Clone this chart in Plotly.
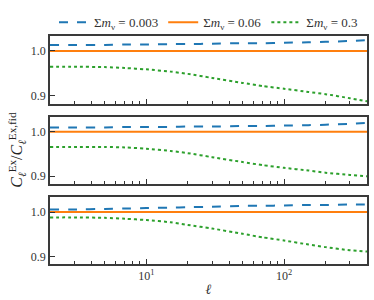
import plotly.graph_objects as go
from plotly.subplots import make_subplots

ell = [2, 3, 5, 7, 10, 15, 20, 30, 50, 70, 100, 150, 200, 300, 400]

# panel 1
p1_003 = [1.013, 1.013, 1.013, 1.014, 1.014, 1.015, 1.015, 1.016, 1.017, 1.017, 1.018, 1.019, 1.020, 1.022, 1.024]
p1_006 = [1.0] * len(ell)
p1_03 = [0.965, 0.965, 0.964, 0.962, 0.959, 0.954, 0.949, 0.940, 0.929, 0.922, 0.916, 0.909, 0.904, 0.895, 0.888]
# panel 2
p2_003 = [1.010, 1.010, 1.010, 1.011, 1.011, 1.011, 1.012, 1.012, 1.013, 1.013, 1.014, 1.015, 1.016, 1.018, 1.020]
p2_006 = [1.0] * len(ell)
p2_03 = [0.966, 0.966, 0.966, 0.965, 0.962, 0.957, 0.952, 0.943, 0.932, 0.925, 0.919, 0.913, 0.908, 0.903, 0.900]
# panel 3
p3_003 = [1.006, 1.006, 1.007, 1.008, 1.009, 1.010, 1.011, 1.012, 1.014, 1.014, 1.015, 1.016, 1.016, 1.017, 1.017]
p3_006 = [1.0] * len(ell)
p3_03 = [0.988, 0.988, 0.987, 0.985, 0.982, 0.977, 0.971, 0.963, 0.951, 0.943, 0.936, 0.927, 0.921, 0.914, 0.911]

labels = ["Σ<i>m</i><sub>ν</sub> = 0.003", "Σ<i>m</i><sub>ν</sub> = 0.06", "Σ<i>m</i><sub>ν</sub> = 0.3"]
colors = ["#1f77b4", "#ff7f0e", "#2ca02c"]
dashes = ["dash", "solid", "dot"]

panels = [(p1_003, p1_006, p1_03), (p2_003, p2_006, p2_03), (p3_003, p3_006, p3_03)]

fig = make_subplots(rows=3, cols=1, shared_xaxes=True)
for r, series in enumerate(panels, start=1):
    for i, ys in enumerate(series):
        fig.add_trace(go.Scatter(x=ell, y=ys, mode="lines", name=labels[i],
                                 line=dict(color=colors[i], dash=dashes[i], width=2, shape="spline", smoothing=0.6),
                                 showlegend=(r == 1)), row=r, col=1)

font = "Liberation Serif"
domains = [[0.7034, 1.0], [0.3517, 0.644], [0.0, 0.292]]
minor_vals = [2, 3, 4, 5, 6, 7, 8, 9, 20, 30, 40, 50, 60, 70, 80, 90, 200, 300, 400]
for r in range(1, 4):
    fig.update_xaxes(type="log", range=[0.30103, 2.60206], row=r, col=1, automargin=False,
                     tickvals=[10, 100], ticktext=["10<sup>1</sup>", "10<sup>2</sup>"],
                     showticklabels=(r == 3), ticks="inside", ticklen=5, tickwidth=1, tickcolor="#333",
                     minor=dict(tickvals=minor_vals, ticks="inside", ticklen=3, tickwidth=0.8, tickcolor="#333"),
                     showline=True, linecolor="#3a3a3a", linewidth=1.5, mirror=True,
                     showgrid=False, zeroline=False, tickfont=dict(family=font, size=12, color="#333"))
    fig.update_yaxes(range=[0.883, 1.033], tickvals=[0.9, 1.0], ticktext=["0.9", "1.0"], automargin=False,
                     ticks="inside", ticklen=5, tickwidth=1, tickcolor="#333",
                     showline=True, linecolor="#3a3a3a", linewidth=1.5, mirror=True,
                     showgrid=False, zeroline=False, domain=domains[r - 1], row=r, col=1,
                     tickfont=dict(family=font, size=12, color="#333"))

fig.update_xaxes(title=dict(text="<i>ℓ</i>", font=dict(family=font, size=14, color="#333"), standoff=2), row=3, col=1)

fig.add_annotation(text="<i>C</i><sub><i>ℓ</i></sub><sup>Ex</sup>/<i>C</i><sub><i>ℓ</i></sub><sup>Ex,fid</sup>",
                   xref="paper", yref="paper", x=-0.105, xanchor="center", y=0.5, textangle=-90, showarrow=False,
                   font=dict(family=font, size=16, color="#222"))

fig.update_layout(width=374, height=300, margin=dict(l=50, r=7, t=28, b=36),
                  plot_bgcolor="white", paper_bgcolor="white",
                  legend=dict(orientation="h", x=0.5, xanchor="center", y=1.06, yanchor="middle",
                              font=dict(family=font, size=13, color="#333"), itemwidth=30,
                              bgcolor="rgba(0,0,0,0)", tracegroupgap=0))

fig.write_html("out.html", config={"displayModeBar": False},
               post_script="document.body.style.margin='0';document.body.style.overflow='hidden';")
